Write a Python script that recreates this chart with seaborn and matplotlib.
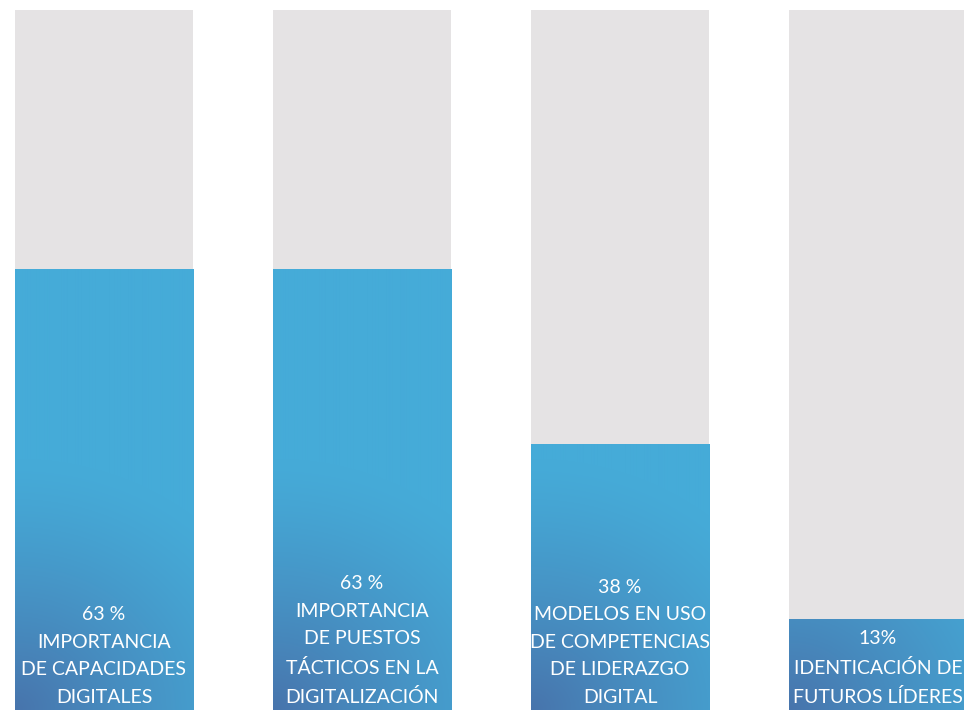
import numpy as np
import pandas as pd
import matplotlib
matplotlib.use("Agg")
import matplotlib.pyplot as plt
from matplotlib.colors import to_rgb
import seaborn as sns

# Survey results: share of respondents per topic
categories = [
    "IMPORTANCIA\nDE CAPACIDADES\nDIGITALES",
    "IMPORTANCIA\nDE PUESTOS\nTÁCTICOS EN LA\nDIGITALIZACIÓN",
    "MODELOS EN USO\nDE COMPETENCIAS\nDE LIDERAZGO\nDIGITAL",
    "IDENTICACIÓN DE\nFUTUROS LÍDERES",
]
values = [63, 63, 38, 13]
pct_suffix = [" %", " %", " %", "%"]
total = [100, 100, 100, 100]

GRAY = "#E5E3E4"
BLUE = "#45ABD8"
DEEP = "#4874AC"

sns.set_theme(style="white")
plt.rcParams["font.family"] = ["Lato", "DejaVu Sans"]

df = pd.DataFrame({"cat": categories, "value": values, "total": total})

fig = plt.figure(figsize=(9.64, 7.10), dpi=100)
ax = fig.add_axes([0, 0, 1, 1])

sns.barplot(data=df, x="cat", y="total", color=GRAY, width=0.69,
            saturation=1, ax=ax, edgecolor="none")
sns.barplot(data=df, x="cat", y="value", color=BLUE, width=0.69,
            saturation=1, ax=ax, edgecolor="none")

ax.set_xlim(-0.403, 3.333)
ax.set_ylim(0, 100 * 710 / 700)
ax.axis("off")
fig.canvas.draw()

# Soft darker shading rising from the lower-left corner of each value bar
blue_rgb = np.array(to_rgb(BLUE))
deep_rgb = np.array(to_rgb(DEEP))
value_bars = ax.containers[1]
for bar in value_bars:
    bb = bar.get_window_extent()
    w_px, h_px = int(round(bb.width)), max(int(round(bb.height)), 1)
    xs = np.arange(w_px)[None, :]
    ys = np.arange(h_px)[::-1][:, None]
    radius = 250.0
    d = np.sqrt((xs * 0.9) ** 2 + (ys * 1.0) ** 2) / radius
    t = np.clip(1 - d, 0, 1) ** 1.3
    img = blue_rgb * (1 - t[..., None]) + deep_rgb * t[..., None]
    x0, y0 = bar.get_x(), bar.get_y()
    im = ax.imshow(img, extent=(x0, x0 + bar.get_width(), y0, y0 + bar.get_height()),
                   aspect="auto", zorder=bar.get_zorder() + 0.1, interpolation="bilinear")
    im.set_clip_path(bar)

ax.set_xlim(-0.403, 3.333)
ax.set_ylim(0, 100 * 710 / 700)

for i, (cat, v, suf) in enumerate(zip(categories, values, pct_suffix)):
    ax.annotate(f"{v}{suf}\n{cat}", xy=(i, 0), xytext=(0, 3), textcoords="offset points",
                ha="center", va="bottom", color="white", fontsize=14,
                linespacing=1.75, zorder=10)

fig.savefig("out.png", dpi=100)
